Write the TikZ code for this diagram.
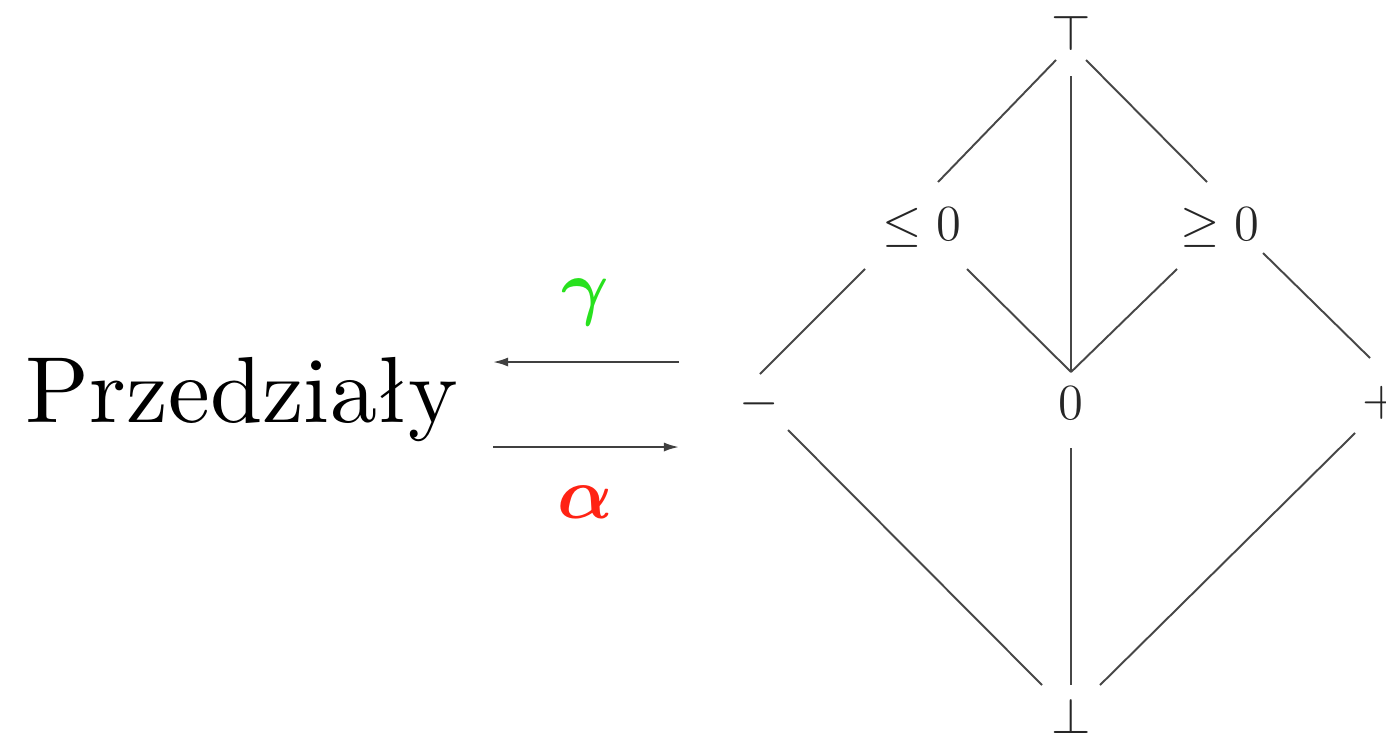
\documentclass[tikz,border=0pt]{standalone}
\usepackage{fontspec}
\newfontfamily\przfont{lmroman10-regular.otf}
\usetikzlibrary{arrows.meta}
\definecolor{gamgreen}{RGB}{40,225,30}
\definecolor{alpred}{RGB}{255,35,20}
\begin{document}
\begin{tikzpicture}[x=0.01cm,y=-0.01cm,
  lbl/.style={inner sep=0pt,outer sep=0pt,text=black!85,font=\fontsize{15.5}{18}\selectfont},
  tb/.style={lbl,font=\fontsize{14}{17}\selectfont},
  edge/.style={draw=black!72,line width=0.55pt},
  maparrow/.style={draw=black!75,line width=0.6pt,-{Latex[length=4.3pt,width=2.6pt]}}]
\useasboundingbox (0,0) rectangle (1386,735);
% left
\node[inner sep=0pt,anchor=base,font=\przfont\fontsize{26.7}{32}\selectfont] (prz) at (242,422) {Przedziały};
\coordinate (gs) at (679,362);
\coordinate (ge) at (493,362);
\coordinate (as) at (493,447);
\coordinate (ae) at (679,447);
\draw[maparrow] (gs) -- (ge);
\draw[maparrow] (as) -- (ae);
\node[inner sep=0pt,text=gamgreen,font=\fontsize{22}{26}\selectfont\boldmath] (gam) at (585,302) {$\gamma$};
\node[inner sep=0pt,text=alpred,font=\fontsize{20.5}{24}\selectfont\boldmath] (alp) at (585,502) {$\alpha$};
% lattice
\node[tb] (top) at (1071,33) {$\top$};
\node[lbl] (le) at (922,228) {$\leq 0$};
\node[lbl] (geq) at (1220,228) {$\geq 0$};
\node[lbl] (minus) at (759,404) {$-$};
\node[lbl] (zero) at (1071,403) {$0$};
\node[lbl] (plus) at (1382,403) {$+$};
\node[tb] (bot) at (1071,716) {$\bot$};
\draw[edge] ([shift={(-15,27)}]top.center) -- ([shift={(16,-46)}]le.center);
\draw[edge] ([shift={(15,27)}]top.center) -- ([shift={(-13,-46)}]geq.center);
\draw[edge] ([shift={(0,43)}]top.center) -- ([shift={(0,-31)}]zero.center);
\draw[edge] ([shift={(-57,41)}]le.center) -- ([shift={(1,-30)}]minus.center);
\draw[edge] ([shift={(45,41)}]le.center) -- ([shift={(0,-31)}]zero.center);
\draw[edge] ([shift={(-43,41)}]geq.center) -- ([shift={(0,-31)}]zero.center);
\draw[edge] ([shift={(43,25)}]geq.center) -- ([shift={(-12,-45)}]plus.center);
\draw[edge] ([shift={(29,26)}]minus.center) -- ([shift={(-29,-31)}]bot.center);
\draw[edge] ([shift={(0,45)}]zero.center) -- ([shift={(0,-31)}]bot.center);
\draw[edge] ([shift={(-27,30)}]plus.center) -- ([shift={(29,-31)}]bot.center);
\end{tikzpicture}
\end{document}
